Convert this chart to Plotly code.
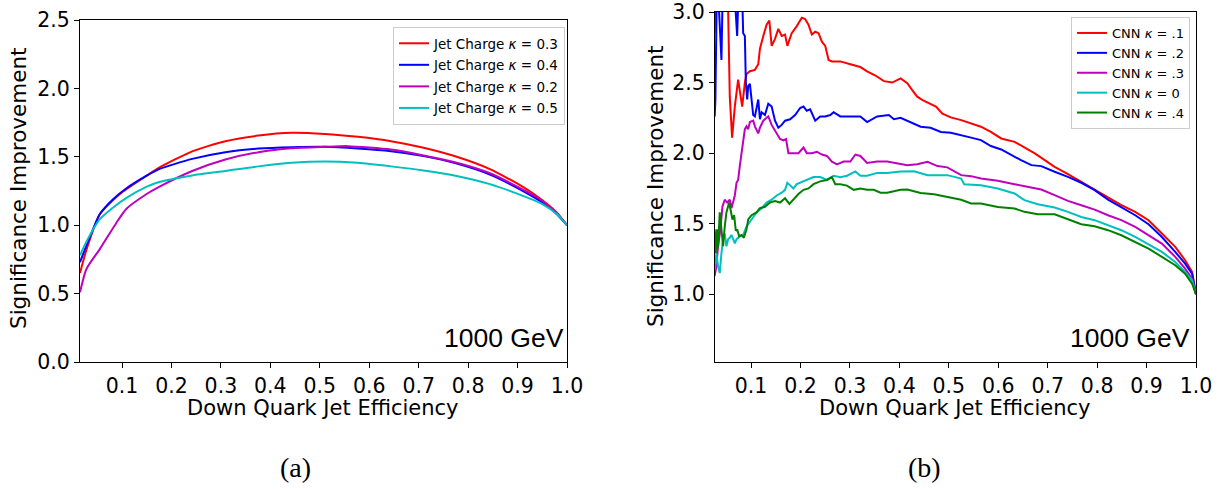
import plotly.graph_objects as go

# ---------------- Panel (a): Jet Charge ----------------
jc_names = ["Jet Charge <i>κ</i> = 0.3", "Jet Charge <i>κ</i> = 0.4",
            "Jet Charge <i>κ</i> = 0.2", "Jet Charge <i>κ</i> = 0.5"]
jc_colors = ["#ff0000", "#0000ff", "#bf00bf", "#00bfbf"]

jc03_x = [0.015, 0.028, 0.055, 0.095, 0.149, 0.175, 0.242, 0.309, 0.376, 0.443, 0.51,
          0.577, 0.644, 0.71, 0.777, 0.844, 0.911, 0.951, 0.98, 1.0]
jc03_y = [0.65, 0.82, 1.08, 1.226, 1.36, 1.42, 1.54, 1.614, 1.655, 1.675, 1.667,
          1.646, 1.614, 1.566, 1.50, 1.41, 1.28, 1.18, 1.09, 1.0]

jc04_x = [0.015, 0.028, 0.055, 0.082, 0.109, 0.149, 0.175, 0.242, 0.309, 0.376, 0.443,
          0.51, 0.577, 0.644, 0.71, 0.777, 0.844, 0.911, 0.951, 0.98, 1.0]
jc04_y = [0.73, 0.85, 1.08, 1.19, 1.27, 1.36, 1.41, 1.485, 1.534, 1.56, 1.57,
          1.573, 1.56, 1.54, 1.505, 1.45, 1.37, 1.25, 1.165, 1.08, 1.0]

jc02_x = [0.015, 0.028, 0.055, 0.089, 0.109, 0.149, 0.175, 0.242, 0.309, 0.376, 0.443,
          0.51, 0.557, 0.644, 0.71, 0.777, 0.844, 0.911, 0.951, 0.98, 1.0]
jc02_y = [0.51, 0.68, 0.825, 1.02, 1.12, 1.226, 1.28, 1.396, 1.48, 1.534, 1.563,
          1.573, 1.578, 1.553, 1.51, 1.456, 1.38, 1.26, 1.177, 1.08, 1.0]

jc05_x = [0.015, 0.028, 0.055, 0.082, 0.109, 0.149, 0.175, 0.242, 0.309, 0.376, 0.443,
          0.51, 0.577, 0.644, 0.71, 0.777, 0.844, 0.911, 0.951, 0.98, 1.0]
jc05_y = [0.78, 0.88, 1.044, 1.13, 1.2, 1.28, 1.316, 1.364, 1.396, 1.43, 1.456,
          1.466, 1.456, 1.43, 1.40, 1.36, 1.30, 1.214, 1.153, 1.08, 1.0]

# ---------------- Panel (b): CNN ----------------
cnn_names = ["CNN <i>κ</i> = .1", "CNN <i>κ</i> = .2", "CNN <i>κ</i> = .3",
             "CNN <i>κ</i> = 0", "CNN <i>κ</i> = .4"]
cnn_colors = ["#ff0000", "#0000ff", "#bf00bf", "#00bfbf", "#008000"]

cnn01_x = [0.0264, 0.0285, 0.052, 0.0569, 0.0616, 0.0671, 0.0738, 0.0772, 0.0820, 0.0874,
           0.0908, 0.0976, 0.1077, 0.1145, 0.1179, 0.1247, 0.1314, 0.1369, 0.1416, 0.1484,
           0.1551, 0.1619, 0.1687, 0.1734, 0.1822, 0.1924, 0.2026, 0.2093, 0.2161, 0.2229,
           0.2297, 0.2364, 0.2432, 0.25, 0.2568, 0.2635, 0.2805, 0.3008, 0.3211, 0.3347,
           0.3516, 0.3686, 0.3855, 0.4024, 0.416, 0.426, 0.436, 0.447, 0.46, 0.474,
           0.487, 0.504, 0.525, 0.545, 0.565, 0.585, 0.606, 0.633, 0.653, 0.674,
           0.694, 0.714, 0.741, 0.768, 0.795, 0.822, 0.849, 0.877, 0.904, 0.931,
           0.958, 0.978, 0.992, 1.0]
cnn01_y = [2.85, 3.3, 3.3, 2.40, 2.11, 2.33, 2.52, 2.43, 2.33, 2.50,
           2.56, 2.58, 2.59, 2.63, 2.74, 2.83, 2.91, 2.94, 2.76, 2.81,
           2.88, 2.83, 2.84, 2.76, 2.85, 2.90, 2.96, 2.95, 2.91, 2.84,
           2.86, 2.85, 2.79, 2.76, 2.66, 2.65, 2.65, 2.63, 2.61, 2.58,
           2.55, 2.51, 2.50, 2.53, 2.495, 2.447, 2.40, 2.376, 2.353, 2.33,
           2.28, 2.253, 2.234, 2.21, 2.187, 2.15, 2.104, 2.08, 2.04, 1.998,
           1.95, 1.903, 1.851, 1.797, 1.738, 1.686, 1.631, 1.584, 1.525, 1.43,
           1.336, 1.241, 1.158, 1.0]

cnn02_x = [0.0264, 0.0278, 0.0312, 0.0366, 0.0400, 0.0434, 0.0637, 0.0718, 0.0759, 0.0806,
           0.0840, 0.0874, 0.0894, 0.0921, 0.0942, 0.0976, 0.1009, 0.1043, 0.1077, 0.1111,
           0.1145, 0.1179, 0.1213, 0.1280, 0.1348, 0.1416, 0.1484, 0.1551, 0.1619, 0.1687,
           0.1789, 0.1890, 0.1992, 0.2060, 0.2127, 0.2195, 0.2297, 0.2398, 0.25, 0.2602,
           0.2669, 0.2805, 0.3008, 0.3211, 0.3347, 0.3550, 0.3787, 0.3889, 0.4024, 0.413,
           0.43, 0.443, 0.463, 0.484, 0.504, 0.525, 0.545, 0.565, 0.585, 0.606,
           0.626, 0.646, 0.667, 0.687, 0.714, 0.741, 0.768, 0.795, 0.822, 0.849,
           0.877, 0.904, 0.931, 0.958, 0.978, 0.992, 1.0]
cnn02_y = [2.26, 2.38, 3.3, 2.92, 2.66, 3.3, 3.3, 2.83, 3.3, 3.3,
           2.85, 2.83, 2.50, 2.38, 2.475, 2.49, 2.38, 2.27, 2.26, 2.33,
           2.38, 2.24, 2.29, 2.27, 2.35, 2.33, 2.23, 2.18, 2.20, 2.23,
           2.24, 2.27, 2.32, 2.33, 2.30, 2.31, 2.23, 2.26, 2.26, 2.27,
           2.29, 2.26, 2.26, 2.26, 2.22, 2.26, 2.27, 2.24, 2.25, 2.234,
           2.21, 2.187, 2.18, 2.15, 2.144, 2.128, 2.11, 2.092, 2.05, 2.026,
           1.986, 1.95, 1.915, 1.908, 1.868, 1.832, 1.79, 1.738, 1.671, 1.615,
           1.56, 1.496, 1.406, 1.30, 1.217, 1.146, 1.0]

cnn03_x = [0.0264, 0.0298, 0.0332, 0.0379, 0.0420, 0.0467, 0.0515, 0.0569, 0.0603, 0.0637,
           0.0671, 0.0705, 0.0738, 0.0772, 0.0806, 0.0840, 0.0874, 0.0908, 0.0942, 0.0976,
           0.1043, 0.1077, 0.1145, 0.1179, 0.1247, 0.1314, 0.1348, 0.1416, 0.1484, 0.1585,
           0.1653, 0.1707, 0.1755, 0.1856, 0.1958, 0.2060, 0.2127, 0.2229, 0.2331, 0.2432,
           0.2534, 0.2635, 0.2737, 0.2873, 0.3008, 0.3110, 0.3211, 0.3347, 0.3550, 0.3753,
           0.4024, 0.416, 0.436, 0.457, 0.477, 0.497, 0.525, 0.545, 0.565, 0.599,
           0.633, 0.667, 0.687, 0.714, 0.741, 0.768, 0.795, 0.822, 0.849, 0.877,
           0.904, 0.931, 0.958, 0.978, 0.992, 1.0]
cnn03_y = [1.13, 1.20, 1.34, 1.46, 1.62, 1.67, 1.65, 1.67, 1.61, 1.65,
           1.70, 1.79, 1.81, 1.91, 2.0, 2.10, 2.17, 2.19, 2.17, 2.22,
           2.23, 2.19, 2.14, 2.18, 2.23, 2.25, 2.26, 2.20, 2.16, 2.10,
           2.09, 2.10, 2.0, 2.0, 2.0, 2.04, 2.0, 2.0, 2.01, 1.99,
           1.98, 1.94, 1.92, 1.94, 1.94, 1.99, 1.98, 1.93, 1.94, 1.94,
           1.92, 1.915, 1.922, 1.939, 1.908, 1.899, 1.844, 1.837, 1.82, 1.804,
           1.78, 1.756, 1.742, 1.702, 1.662, 1.631, 1.6, 1.56, 1.525, 1.477,
           1.418, 1.359, 1.265, 1.182, 1.111, 1.0]

cnn00_x = [0.0264, 0.0298, 0.0332, 0.0366, 0.0400, 0.0434, 0.0467, 0.0501, 0.0535, 0.0569,
           0.0603, 0.0637, 0.0671, 0.0705, 0.0772, 0.0840, 0.0908, 0.1009, 0.1111, 0.1213,
           0.1314, 0.1416, 0.1518, 0.1619, 0.1687, 0.1734, 0.1789, 0.1856, 0.1924, 0.1992,
           0.2060, 0.2161, 0.2263, 0.2398, 0.2534, 0.2669, 0.2805, 0.2940, 0.3110, 0.3211,
           0.3347, 0.3550, 0.3753, 0.4024, 0.43, 0.457, 0.497, 0.525, 0.531, 0.565,
           0.599, 0.633, 0.653, 0.68, 0.714, 0.741, 0.768, 0.795, 0.822, 0.849,
           0.877, 0.904, 0.931, 0.958, 0.978, 0.992, 1.0]
cnn00_y = [1.17, 1.29, 1.20, 1.15, 1.29, 1.39, 1.43, 1.34, 1.39, 1.40,
           1.42, 1.39, 1.36, 1.39, 1.41, 1.42, 1.48, 1.53, 1.58, 1.61,
           1.65, 1.67, 1.70, 1.72, 1.74, 1.79, 1.77, 1.75, 1.78, 1.79,
           1.80, 1.81, 1.83, 1.83, 1.81, 1.84, 1.83, 1.84, 1.87, 1.84,
           1.84, 1.86, 1.86, 1.87, 1.872, 1.844, 1.844, 1.82, 1.78, 1.773,
           1.749, 1.714, 1.667, 1.638, 1.615, 1.584, 1.548, 1.525, 1.489, 1.454,
           1.406, 1.354, 1.30, 1.229, 1.158, 1.099, 1.0]

cnn04_x = [0.0264, 0.0285, 0.0312, 0.0332, 0.0366, 0.0400, 0.0434, 0.0467, 0.0501, 0.0556,
           0.0589, 0.0623, 0.0657, 0.0691, 0.0718, 0.0759, 0.0806, 0.0854, 0.0908, 0.0942,
           0.1009, 0.1111, 0.1179, 0.1280, 0.1382, 0.1484, 0.1585, 0.1687, 0.1775, 0.1856,
           0.1958, 0.2060, 0.2161, 0.2263, 0.2398, 0.2534, 0.2635, 0.2703, 0.2805, 0.2940,
           0.3076, 0.3211, 0.3347, 0.3482, 0.3618, 0.3753, 0.3889, 0.4024, 0.416, 0.443,
           0.47, 0.497, 0.525, 0.545, 0.565, 0.599, 0.633, 0.653, 0.68, 0.714,
           0.741, 0.768, 0.795, 0.822, 0.849, 0.877, 0.904, 0.931, 0.958, 0.978,
           0.992, 1.0]
cnn04_y = [1.46, 1.29, 1.46, 1.33, 1.58, 1.44, 1.34, 1.48, 1.58, 1.65,
           1.60, 1.53, 1.56, 1.45, 1.46, 1.41, 1.42, 1.40, 1.46, 1.53,
           1.56, 1.58, 1.61, 1.62, 1.65, 1.66, 1.65, 1.68, 1.64, 1.67,
           1.71, 1.74, 1.75, 1.78, 1.80, 1.81, 1.83, 1.78, 1.78, 1.77,
           1.74, 1.75, 1.74, 1.74, 1.72, 1.72, 1.73, 1.74, 1.742, 1.718,
           1.709, 1.69, 1.67, 1.643, 1.643, 1.619, 1.608, 1.584, 1.567, 1.567,
           1.53, 1.496, 1.482, 1.454, 1.418, 1.371, 1.324, 1.265, 1.206, 1.146,
           1.075, 1.0]

# tick labels
x_ticks = [0.1, 0.2, 0.3, 0.4, 0.5, 0.6, 0.7, 0.8, 0.9, 1.0]
y_ticks_a = [0.0, 0.5, 1.0, 1.5, 2.0, 2.5]
y_ticks_b = [1.0, 1.5, 2.0, 2.5, 3.0]

W, H = 1220, 489
FONT = "DejaVu Sans, Verdana, sans-serif"

fig = go.Figure()

for i, (xs, ys, name, col) in enumerate(zip([jc03_x, jc04_x, jc02_x, jc05_x],
                                            [jc03_y, jc04_y, jc02_y, jc05_y], jc_names, jc_colors)):
    fig.add_trace(go.Scatter(x=xs, y=ys, name=name, mode="lines",
                             line=dict(color=col, width=2, shape="spline", smoothing=0.6),
                             xaxis="x", yaxis="y", legend="legend", legendgroup="a%d" % i))

for i, (xs, ys, name, col) in enumerate(zip([cnn01_x, cnn02_x, cnn03_x, cnn00_x, cnn04_x],
                                            [cnn01_y, cnn02_y, cnn03_y, cnn00_y, cnn04_y],
                                            cnn_names, cnn_colors)):
    fig.add_trace(go.Scatter(x=xs, y=ys, name=name, mode="lines",
                             line=dict(color=col, width=2),
                             xaxis="x2", yaxis="y2", legend="legend2"))

axis_common = dict(showline=True, mirror=True, linecolor="black", linewidth=1,
                   ticks="outside", ticklen=5, tickwidth=1, tickcolor="black",
                   showgrid=False, zeroline=False, automargin=False,
                   tickfont=dict(family=FONT, size=20.5, color="black"))

fig.update_layout(
    width=W, height=H,
    margin=dict(l=0, r=0, t=0, b=0, autoexpand=False),
    paper_bgcolor="white", plot_bgcolor="white",
    xaxis=dict(domain=[80 / W, 567 / W], range=[0.015, 1.0], tickvals=x_ticks,
               tickformat=".1f", anchor="y", **axis_common),
    yaxis=dict(domain=[(H - 362) / H, (H - 20) / H], range=[0.0, 2.5], tickvals=y_ticks_a,
               tickformat=".1f", anchor="x", **axis_common),
    xaxis2=dict(domain=[715 / W, 1196 / W], range=[0.027, 1.0], tickvals=x_ticks,
                tickformat=".1f", anchor="y2", **axis_common),
    yaxis2=dict(domain=[(H - 362) / H, (H - 12) / H], range=[0.52, 3.0], tickvals=y_ticks_b,
                tickformat=".1f", anchor="x2", **axis_common),
    legend=dict(x=565 / W, y=(H - 27) / H, xanchor="right", yanchor="top",
                bgcolor="white", bordercolor="#cccccc", borderwidth=1, tracegroupgap=1,
                font=dict(family=FONT, size=13.5, color="black")),
    legend2=dict(x=1190 / W, y=(H - 17) / H, xanchor="right", yanchor="top",
                 bgcolor="white", bordercolor="#cccccc", borderwidth=1,
                 font=dict(family=FONT, size=13, color="black")),
    showlegend=True,
)

ann = []
# axis titles
for cx, cy in ((18, 188), (655, 186)):
    ann.append(dict(text="Significance Improvement", x=cx / W, y=(H - cy) / H,
                    xref="paper", yref="paper", showarrow=False, textangle=-90,
                    xanchor="center", yanchor="middle",
                    font=dict(family=FONT, size=21.5, color="black")))
for cx in (323, 955):
    ann.append(dict(text="Down Quark Jet Efficiency", x=cx / W, y=(H - 408) / H,
                    xref="paper", yref="paper", showarrow=False,
                    xanchor="center", yanchor="middle",
                    font=dict(family=FONT, size=21, color="black")))
# energy labels
for rx in (566, 1192):
    ann.append(dict(text="1000 GeV", x=rx / W, y=(H - 338) / H,
                    xref="paper", yref="paper", showarrow=False,
                    xanchor="right", yanchor="middle",
                    font=dict(family="Liberation Sans, Arial, sans-serif", size=26.5, color="black")))
# sub-figure labels
for cx, lab in ((295, "(a)"), (924, "(b)")):
    ann.append(dict(text=lab, x=cx / W, y=(H - 467) / H,
                    xref="paper", yref="paper", showarrow=False,
                    xanchor="center", yanchor="middle",
                    font=dict(family="Liberation Serif, DejaVu Serif, serif", size=28, color="black")))
fig.update_layout(annotations=ann)

fig.write_html("out.html")
